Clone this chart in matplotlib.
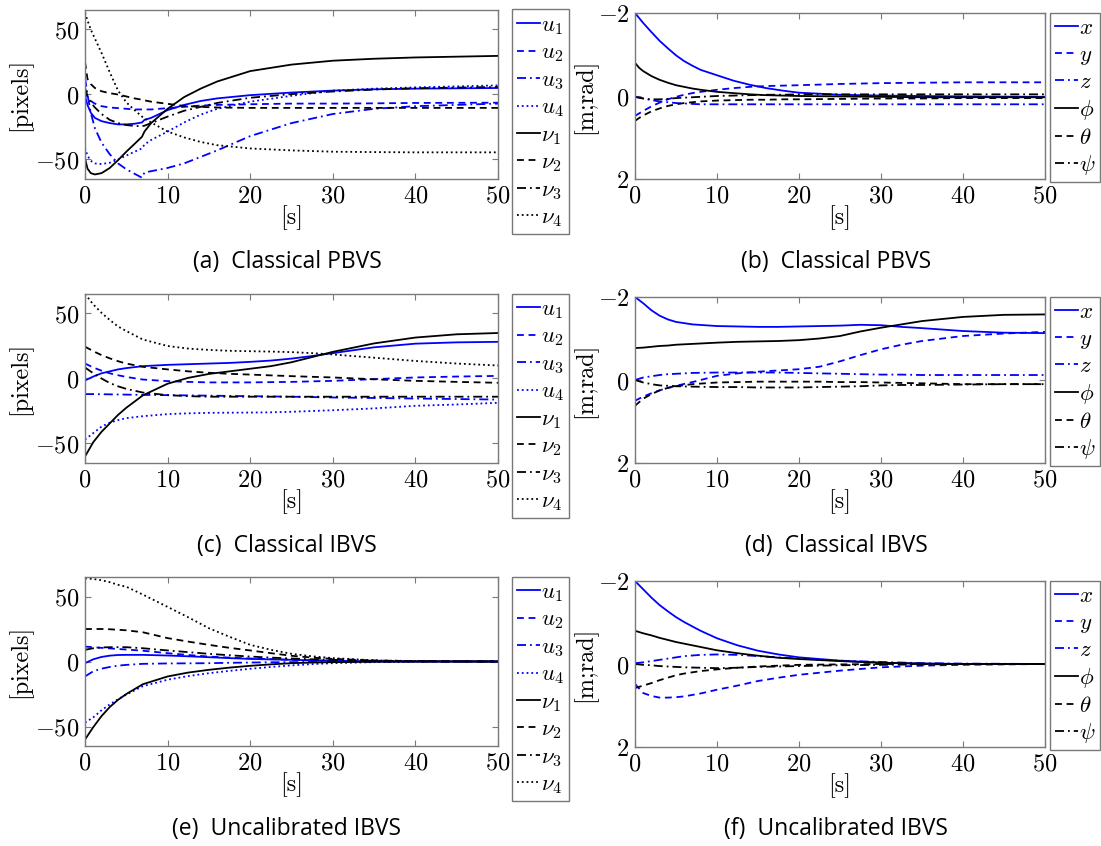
import numpy as np
import matplotlib.pyplot as plt
from matplotlib.ticker import FuncFormatter

plt.rcParams['mathtext.fontset'] = 'cm'
plt.rcParams['font.family'] = ['DejaVu Serif']

# ---------------- (a) classical PBVS, image errors [pixels] ----------------
t_a = [0, 0.3, 0.7, 1.2, 2, 3, 4, 5, 6, 6.9, 7.2, 8, 10, 12, 14, 16, 20, 25, 30, 35, 40, 50]
a_u1 = [-1, -8, -14, -18, -20.5, -22, -23, -23, -22.5, -21.5, -19.5, -18, -12, -8, -5, -3, -0.5, 1.5, 3, 4, 4.5, 5]
a_u2 = [3, -2, -5, -7, -9, -10, -10.5, -11, -11.5, -11.5, -11.5, -11.5, -10.5, -9.5, -8.5, -8, -7.5, -7, -7, -6.8, -6.5, -6.3]
a_u3 = [13, 0, -14, -26, -37, -46, -53, -57.5, -61, -64, -60, -59, -56.5, -53, -48, -43, -32, -22, -15, -11, -9, -7]
a_u4 = [-41, -47, -51, -53, -53.5, -52.5, -50, -47, -44, -41.5, -38.5, -35, -28.5, -21.5, -15.5, -11, -5.5, -1, 3, 4.5, 5.5, 7]
a_v1 = [-49, -57, -60.5, -61.5, -60.5, -56.5, -50.5, -44, -38, -32.5, -28.5, -22, -11, -2, 4.5, 10, 18, 23, 26, 27.5, 28.5, 29.7]
a_v2 = [25, 12, 8, 5, 2.5, 1, 0, -1.5, -3, -4, -4.5, -5.5, -7.2, -8.8, -9.5, -10, -10.3, -10.3, -10.3, -10.3, -10.3, -10.3]
a_v3 = [5, -1, -6, -10, -15, -19.5, -22, -23.5, -24.2, -24.4, -24, -22, -17, -12.5, -9.5, -6.5, -2.5, 0.3, 2.3, 3.8, 4.8, 5.8]
a_v4 = [63, 57, 50, 43, 32, 17, 3, -6, -12, -17, -18.5, -21.5, -28.5, -33, -36.5, -39, -41.5, -43, -44, -44.3, -44.5, -44.5]

# ---------------- (b) classical PBVS, pose errors [m;rad] ----------------
t_b = [0, 0.5, 1, 2, 3, 4, 5, 6, 7, 8, 10, 12, 14, 16, 18, 20, 25, 30, 35, 40, 50]
b_x = [-2, -1.88, -1.76, -1.54, -1.33, -1.15, -0.98, -0.84, -0.73, -0.63, -0.5, -0.37, -0.27, -0.19, -0.13, -0.08, -0.03, -0.01, 0, 0.01, 0.02]
b_y = [0.48, 0.42, 0.36, 0.25, 0.16, 0.08, 0.02, -0.03, -0.07, -0.1, -0.15, -0.19, -0.22, -0.24, -0.25, -0.26, -0.29, -0.31, -0.32, -0.33, -0.33]
b_z = [0.02, 0.04, 0.06, 0.1, 0.13, 0.15, 0.17, 0.18, 0.19, 0.2, 0.2, 0.2, 0.2, 0.2, 0.2, 0.2, 0.2, 0.2, 0.2, 0.2, 0.2]
b_phi = [-0.8, -0.68, -0.6, -0.48, -0.39, -0.32, -0.26, -0.22, -0.18, -0.15, -0.1, -0.07, -0.04, -0.02, -0.01, 0, 0.01, 0.02, 0.03, 0.03, 0.03]
b_theta = [0.6, 0.53, 0.47, 0.37, 0.3, 0.24, 0.2, 0.17, 0.15, 0.13, 0.11, 0.1, 0.09, 0.09, 0.08, 0.08, 0.07, 0.06, 0.06, 0.05, 0.05]
b_psi = [0.02, 0.04, 0.06, 0.08, 0.08, 0.07, 0.05, 0.04, 0.03, 0.02, 0, -0.01, -0.02, -0.03, -0.03, -0.04, -0.04, -0.04, -0.04, -0.04, -0.04]

# ---------------- (c) classical IBVS, image errors ----------------
t_c = [0, 1, 2, 3, 4, 5, 7, 10, 12.5, 15, 17.5, 20, 22.5, 25, 27.5, 30, 35, 40, 45, 50]
c_u1 = [-1.5, 1.5, 4, 5.5, 7, 8, 9.5, 10.5, 11, 11.5, 12, 12.8, 13.8, 15.3, 17.3, 19.5, 24, 26.8, 27.8, 28.2]
c_u2 = [11.5, 8.5, 6, 4, 2.5, 1.2, -0.8, -2, -2.6, -3, -3, -3, -2.8, -2.6, -2.2, -1.8, -0.5, 0.8, 1.5, 2]
c_u3 = [-12, -12, -12.1, -12.2, -12.3, -12.4, -12.6, -12.8, -13, -13.2, -13.4, -13.6, -13.8, -14, -14.3, -14.6, -15, -15.4, -15.8, -16.2]
c_u4 = [-47, -42, -37, -34, -32, -30.5, -29, -27.4, -26.8, -26.4, -26.3, -26.2, -26, -25.6, -25, -24.4, -23, -21, -20, -18.7]
c_v1 = [-60, -49, -41, -34.5, -28, -22.5, -13, -4, 0.5, 3.5, 5.5, 7.5, 9.5, 12.5, 16.5, 20.5, 27, 31.5, 34, 35]
c_v2 = [24.5, 21, 18, 15.5, 13.3, 11.5, 9, 7, 5.5, 4.4, 3.6, 3, 2.4, 1.8, 1.3, 0.8, -0.6, -1.8, -2.6, -3.3]
c_v3 = [8.5, 4, 0, -3.5, -6, -8, -10.8, -12.8, -13.6, -14, -14, -14, -14, -14, -14, -14, -14, -14, -14, -14]
c_v4 = [65, 57, 50.5, 45, 40, 36.5, 30, 25, 23, 22, 21.3, 21, 20.7, 20.3, 19.5, 18.5, 16, 13.5, 11.5, 10]

# ---------------- (d) classical IBVS, pose errors ----------------
t_d = [0, 1, 2, 3, 4, 5, 7, 10, 12.5, 15, 17.5, 20, 22.5, 25, 27.5, 30, 32.5, 35, 40, 45, 50]
d_x = [-2, -1.85, -1.68, -1.55, -1.46, -1.4, -1.34, -1.3, -1.29, -1.28, -1.28, -1.29, -1.3, -1.31, -1.33, -1.32, -1.28, -1.25, -1.18, -1.14, -1.13]
d_y = [0.5, 0.4, 0.32, 0.25, 0.19, 0.14, 0.05, -0.1, -0.16, -0.2, -0.23, -0.26, -0.32, -0.45, -0.6, -0.74, -0.85, -0.94, -1.06, -1.12, -1.16]
d_z = [0, -0.06, -0.09, -0.12, -0.14, -0.15, -0.17, -0.18, -0.18, -0.18, -0.18, -0.17, -0.16, -0.15, -0.14, -0.13, -0.13, -0.12, -0.12, -0.12, -0.12]
d_phi = [-0.77, -0.78, -0.8, -0.82, -0.83, -0.85, -0.87, -0.9, -0.92, -0.93, -0.94, -0.96, -1.0, -1.06, -1.17, -1.26, -1.34, -1.42, -1.52, -1.57, -1.58]
d_theta = [0.62, 0.45, 0.34, 0.25, 0.19, 0.15, 0.1, 0.06, 0.05, 0.04, 0.04, 0.04, 0.04, 0.05, 0.05, 0.06, 0.07, 0.08, 0.1, 0.1, 0.1]
d_psi = [0, 0.06, 0.1, 0.13, 0.14, 0.15, 0.16, 0.17, 0.17, 0.18, 0.18, 0.18, 0.17, 0.16, 0.15, 0.13, 0.12, 0.12, 0.11, 0.1, 0.1]

# ---------------- (e) uncalibrated IBVS, image errors ----------------
t_e = [0, 1, 2, 3, 4, 5, 7, 10, 12.5, 15, 17.5, 20, 22.5, 25, 27.5, 30, 35, 40, 45, 50]
e_u1 = [-1.3, 1.7, 3.5, 4.5, 5, 5.1, 5.1, 4.6, 4, 3.3, 2.6, 2, 1.6, 1.3, 0.9, 0.5, 0.2, 0.1, 0, 0]
e_u2 = [11.5, 11, 10.5, 10.1, 9.6, 9.2, 8.3, 6.4, 5, 3.8, 3, 2.3, 1.8, 1.3, 0.9, 0.6, 0.2, 0.1, 0, 0]
e_u3 = [-11.5, -7.5, -5.5, -4.2, -3.2, -2.6, -1.8, -1.5, -1.4, -1.3, -1, -0.8, -0.6, -0.5, -0.4, -0.3, -0.2, 0, 0, 0]
e_u4 = [-47, -43, -37.5, -33, -29, -25.5, -19, -14, -11.2, -9, -7.2, -5.6, -4.2, -3, -2, -1.3, -0.5, -0.2, 0, 0]
e_v1 = [-60, -50.5, -42, -35, -29.5, -25, -17.5, -11.5, -8.5, -6.4, -4.7, -3.3, -2.2, -1.3, -0.8, -0.5, -0.2, -0.1, 0, 0]
e_v2 = [25, 25, 25, 24.8, 24.4, 24, 22.5, 18, 15.3, 12.8, 10.5, 8.5, 6.4, 4.4, 3, 2, 0.8, 0.3, 0.1, 0]
e_v3 = [9, 10.2, 10.8, 11, 11, 11, 10.2, 8.5, 7.2, 5.9, 4.8, 3.8, 3, 2.3, 1.7, 1.3, 0.6, 0.2, 0.1, 0]
e_v4 = [64, 63.5, 62.5, 61, 59, 57.5, 51.5, 42, 34, 25.6, 19, 12.8, 9, 5.9, 4, 2.6, 0.9, 0.3, 0.1, 0]

# ---------------- (f) uncalibrated IBVS, pose errors ----------------
t_f = [0, 1, 2, 3, 4, 5, 6, 8, 10, 12.5, 15, 17.5, 20, 25, 30, 35, 40, 50]
f_x = [-2, -1.8, -1.6, -1.42, -1.27, -1.13, -1.01, -0.8, -0.62, -0.45, -0.32, -0.23, -0.16, -0.08, -0.03, -0.01, 0, 0]
f_y = [0.48, 0.7, 0.77, 0.81, 0.81, 0.8, 0.78, 0.71, 0.62, 0.52, 0.41, 0.33, 0.26, 0.16, 0.08, 0.04, 0.02, 0]
f_z = [-0.02, -0.04, -0.07, -0.1, -0.13, -0.16, -0.19, -0.22, -0.23, -0.22, -0.19, -0.16, -0.13, -0.08, -0.05, -0.02, -0.01, 0]
f_phi = [-0.8, -0.74, -0.69, -0.63, -0.58, -0.53, -0.49, -0.41, -0.33, -0.26, -0.2, -0.15, -0.12, -0.07, -0.03, -0.01, 0, 0]
f_theta = [0.58, 0.52, 0.46, 0.39, 0.33, 0.27, 0.23, 0.17, 0.13, 0.09, 0.06, 0.04, 0.02, 0.01, 0, 0, 0, 0]
f_psi = [0, 0.02, 0.03, 0.05, 0.06, 0.07, 0.08, 0.09, 0.1, 0.09, 0.07, 0.06, 0.05, 0.03, 0.02, 0.01, 0, 0]

pix_labels = [r'$u_1$', r'$u_2$', r'$u_3$', r'$u_4$', r'$\nu_1$', r'$\nu_2$', r'$\nu_3$', r'$\nu_4$']
pose_labels = [r'$x$', r'$y$', r'$z$', r'$\phi$', r'$\theta$', r'$\psi$']
captions = ['(a)  Classical PBVS', '(b)  Classical PBVS',
            '(c)  Classical IBVS', '(d)  Classical IBVS',
            '(e)  Uncalibrated IBVS', '(f)  Uncalibrated IBVS']

BLUE = '#0000ff'
DASH = (0, (3.8, 2.6))
DASHDOT = (0, (5, 2.2, 1, 2.2))
pix_styles = [(BLUE, '-'), (BLUE, DASH), (BLUE, DASHDOT), (BLUE, ':'),
              ('k', '-'), ('k', DASH), ('k', DASHDOT), ('k', ':')]
pose_styles = [(BLUE, '-'), (BLUE, DASH), (BLUE, DASHDOT),
               ('k', '-'), ('k', DASH), ('k', DASHDOT)]

W, H = 1101, 846
GRAY = '#7a7a7a'
TICK_FS = 17.5


def frac_box(left, top, width, height):
    """pixel box (top-left origin) -> figure fraction rect"""
    return [left / W, 1 - (top + height) / H, width / W, height / H]


def style_axes(ax):
    for sp in ax.spines.values():
        sp.set_color(GRAY)
        sp.set_linewidth(1.0)
    ax.tick_params(direction='in', length=4, width=0.8, color=GRAY,
                   top=True, right=True, labelsize=TICK_FS, pad=4)
    fmt = FuncFormatter(lambda v, p: r'$%g$' % v)
    ax.xaxis.set_major_formatter(fmt)
    ax.yaxis.set_major_formatter(fmt)
    ax.set_xlim(0, 50)
    ax.set_xticks([0, 10, 20, 30, 40, 50])


def draw(ax, t, series, styles, labels, leg_xy):
    for ys, (c, ls), lab in zip(series, styles, labels):
        ax.plot(t, ys, color=c, ls=ls, lw=1.3, label=lab)
    leg = ax.legend(loc='upper left', bbox_to_anchor=(leg_xy[0] / W, 1 - leg_xy[1] / H),
                    bbox_transform=fig.transFigure, fontsize=16.5, frameon=True,
                    fancybox=False, borderaxespad=0, borderpad=0.2,
                    handlelength=1.0, handletextpad=0.08, labelspacing=0.2)
    leg.get_frame().set_edgecolor('#555555')
    leg.get_frame().set_linewidth(1.0)


fig = plt.figure(figsize=(W / 100, H / 100), dpi=100)

row_top_l = [10, 294, 577]
row_top_r = [13, 297, 581]
cap_y = [262, 545.5, 829]

pix_sets = [(t_a, [a_u1, a_u2, a_u3, a_u4, a_v1, a_v2, a_v3, a_v4]),
            (t_c, [c_u1, c_u2, c_u3, c_u4, c_v1, c_v2, c_v3, c_v4]),
            (t_e, [e_u1, e_u2, e_u3, e_u4, e_v1, e_v2, e_v3, e_v4])]
pose_sets = [(t_b, [b_x, b_y, b_z, b_phi, b_theta, b_psi]),
             (t_d, [d_x, d_y, d_z, d_phi, d_theta, d_psi]),
             (t_f, [f_x, f_y, f_z, f_phi, f_theta, f_psi])]

for r in range(3):
    # image-space errors
    ax = fig.add_axes(frac_box(85, row_top_l[r], 413, 169))
    style_axes(ax)
    t, ser = pix_sets[r]
    draw(ax, t, ser, pix_styles, pix_labels, (512, row_top_l[r] - 0.5))
    ax.set_ylim(-65, 65)
    ax.set_yticks([-50, 0, 50])
    ax.set_ylabel('[pixels]', fontsize=TICK_FS, family='cmr10', va='center')
    ax.yaxis.set_label_coords(-0.157, 0.5)
    ax.set_xlabel('[s]', fontsize=TICK_FS, family='cmr10', va='center')
    ax.xaxis.set_label_coords(0.5, -0.231)
    fig.text(287 / W, 1 - cap_y[r] / H, captions[2 * r], ha='center', va='center',
             fontsize=16.5, family='Open Sans')

    # cartesian pose errors (axis flipped)
    ax = fig.add_axes(frac_box(635, row_top_r[r], 410, 166))
    style_axes(ax)
    t, ser = pose_sets[r]
    draw(ax, t, ser, pose_styles, pose_labels, (1050, row_top_r[r] - 0.3))
    ax.set_ylim(2, -2)
    ax.set_yticks([-2, 0, 2])
    ax.set_ylabel('[m;rad]', fontsize=TICK_FS, family='cmr10', va='center')
    ax.yaxis.set_label_coords(-0.122, 0.5)
    ax.set_xlabel('[s]', fontsize=TICK_FS, family='cmr10', va='center')
    ax.xaxis.set_label_coords(0.5, -0.235)
    fig.text(836 / W, 1 - cap_y[r] / H, captions[2 * r + 1], ha='center', va='center',
             fontsize=16.5, family='Open Sans')

fig.savefig('out.png', dpi=100)
